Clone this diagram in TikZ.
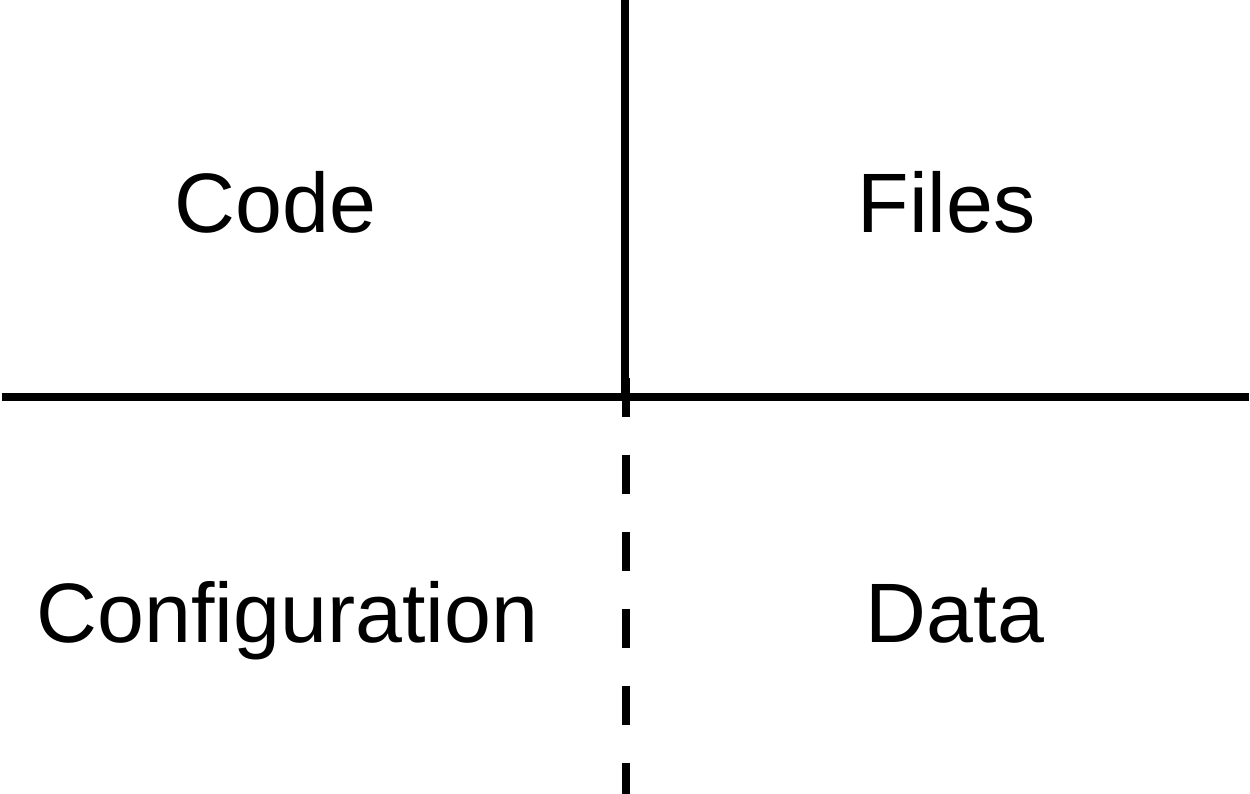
\documentclass[tikz,border=0pt]{standalone}
\usepackage{fontspec}
\setmainfont{Liberation Sans}
\usepackage{tikz}
\usetikzlibrary{positioning}

\tikzset{
  divider/.style={line width=0.16cm},
  quadrant/.style={font=\fontsize{48}{58}\selectfont, anchor=base, inner sep=0pt}
}

\begin{document}
\begin{tikzpicture}
\useasboundingbox (0,0) rectangle (25,15.88);
\coordinate (top) at (12.5,15.88);
\coordinate (mid) at (12.5,7.93);
\coordinate (left) at (0.04,7.93);
\coordinate (right) at (24.98,7.93);
\coordinate (dashtop) at (12.52,8.32);
\coordinate (bottom) at (12.52,0);
\draw[divider] (left) -- (right);
\draw[divider] (top) -- (mid);
\draw[divider, dash pattern=on 0.78cm off 0.76cm] (dashtop) -- (bottom);
\node[quadrant] (code) at (5.51,11.22) {Code};
\node[quadrant] (files) at (18.93,11.22) {Files};
\node[quadrant] (config) at (5.75,3.02) {Configuration};
\node[quadrant] (data) at (19.10,3.02) {Data};
\end{tikzpicture}
\end{document}
